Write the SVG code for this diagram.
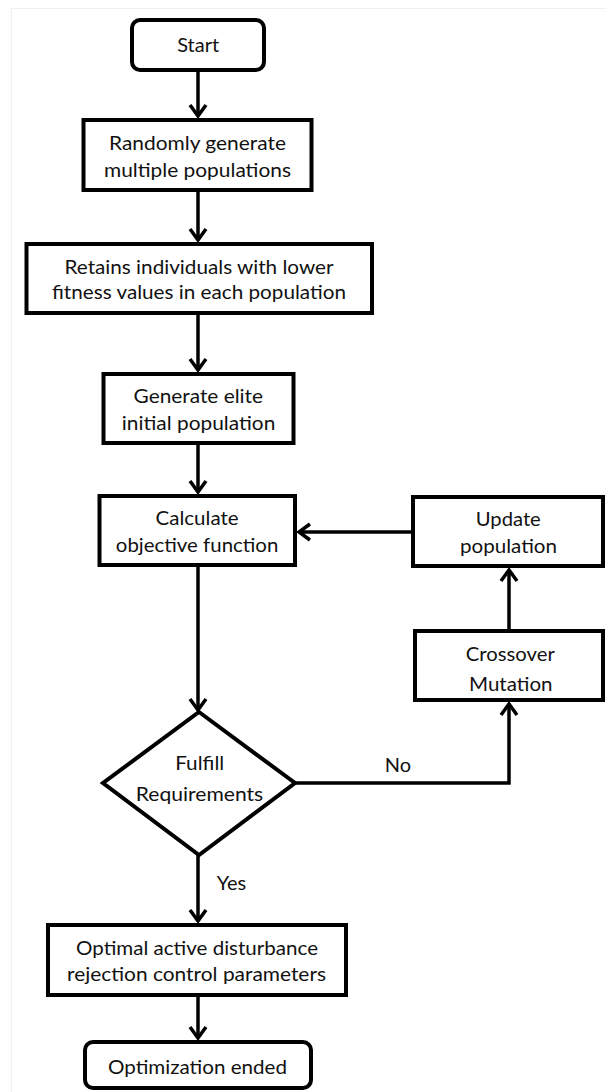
<svg xmlns="http://www.w3.org/2000/svg" width="606" height="1092" viewBox="0 0 606 1092">
<style>
.box{fill:#fff;stroke:#000;stroke-width:4;stroke-linejoin:miter}
.t{font-family:Lato,"Open Sans","Liberation Sans",sans-serif;font-size:20px;fill:#111;text-anchor:middle}
.c{fill:none;stroke:#000;stroke-width:3.5}
</style>
<defs>
<marker id="ah" markerUnits="userSpaceOnUse" markerWidth="24" markerHeight="24" viewBox="-14 -12 24 24" refX="0" refY="0" orient="auto" overflow="visible">
<path d="M-11,-8 L0,0 L-11,8" fill="none" stroke="#000" stroke-width="3.5"/>
</marker>
</defs>
<rect width="606" height="1092" fill="#fff"/>
<rect x="11.5" y="8.5" width="600" height="1100" fill="none" stroke="#f0f0f0" stroke-width="1"/>
<g id="connectors">
<path class="c" d="M198,72 V116" marker-end="url(#ah)"/>
<path class="c" d="M198,192 V240" marker-end="url(#ah)"/>
<path class="c" d="M198,315 V370" marker-end="url(#ah)"/>
<path class="c" d="M198,445 V492" marker-end="url(#ah)"/>
<path class="c" d="M198,567 V710" marker-end="url(#ah)"/>
<path class="c" d="M198,855 V921" marker-end="url(#ah)"/>
<path class="c" d="M198,997 V1038" marker-end="url(#ah)"/>
<path class="c" d="M411,532 H299" marker-end="url(#ah)"/>
<path class="c" d="M509,629 V570" marker-end="url(#ah)"/>
<path class="c" d="M295,783 H509 V704" marker-end="url(#ah)"/>
<text class="t" x="398" y="772">No</text>
<text class="t" x="231.5" y="890">Yes</text>
</g>
<g id="start">
<rect class="box" x="132" y="20" width="132" height="50" rx="8"/>
<text class="t" x="198.2" y="52">Start</text>
</g>
<g id="randomly">
<rect class="box" x="83.5" y="120" width="228" height="70"/>
<text class="t" x="197.5" y="150" textLength="177" lengthAdjust="spacingAndGlyphs">Randomly generate</text>
<text class="t" x="197.5" y="177" textLength="187" lengthAdjust="spacingAndGlyphs">multiple populations</text>
</g>
<g id="retains">
<rect class="box" x="26.5" y="244" width="345.5" height="69"/>
<text class="t" x="199" y="274" textLength="269" lengthAdjust="spacingAndGlyphs">Retains individuals with lower</text>
<text class="t" x="199" y="299" textLength="294" lengthAdjust="spacingAndGlyphs">fitness values in each population</text>
</g>
<g id="generate">
<rect class="box" x="103.5" y="374" width="190" height="69"/>
<text class="t" x="198.3" y="403" textLength="129.5" lengthAdjust="spacingAndGlyphs">Generate elite</text>
<text class="t" x="198.6" y="430" textLength="153.5" lengthAdjust="spacingAndGlyphs">initial population</text>
</g>
<g id="calculate">
<rect class="box" x="99.5" y="496" width="195.5" height="69"/>
<text class="t" x="197.1" y="525" textLength="83" lengthAdjust="spacingAndGlyphs">Calculate</text>
<text class="t" x="197.1" y="552" textLength="162.5" lengthAdjust="spacingAndGlyphs">objective function</text>
</g>
<g id="update">
<rect class="box" x="413" y="497" width="190" height="69"/>
<text class="t" x="508.3" y="526" textLength="65" lengthAdjust="spacingAndGlyphs">Update</text>
<text class="t" x="508.5" y="553" textLength="97" lengthAdjust="spacingAndGlyphs">population</text>
</g>
<g id="crossover">
<rect class="box" x="415" y="631" width="188" height="69"/>
<text class="t" x="510.3" y="661" textLength="89" lengthAdjust="spacingAndGlyphs">Crossover</text>
<text class="t" x="510.8" y="691" textLength="83.5" lengthAdjust="spacingAndGlyphs">Mutation</text>
</g>
<g id="decision">
<polygon class="box" points="199,712 295,783 199,855 103,783"/>
<text class="t" x="199.7" y="770" textLength="49" lengthAdjust="spacingAndGlyphs">Fulfill</text>
<text class="t" x="199.5" y="801" textLength="127.5" lengthAdjust="spacingAndGlyphs">Requirements</text>
</g>
<g id="optimal">
<rect class="box" x="48" y="925" width="298" height="70"/>
<text class="t" x="197" y="955" textLength="242" lengthAdjust="spacingAndGlyphs">Optimal active disturbance</text>
<text class="t" x="196.5" y="981" textLength="259" lengthAdjust="spacingAndGlyphs">rejection control parameters</text>
</g>
<g id="end">
<rect class="box" x="85" y="1042" width="226" height="46" rx="8"/>
<text class="t" x="197.5" y="1074" textLength="179" lengthAdjust="spacingAndGlyphs">Optimization ended</text>
</g>
</svg>
